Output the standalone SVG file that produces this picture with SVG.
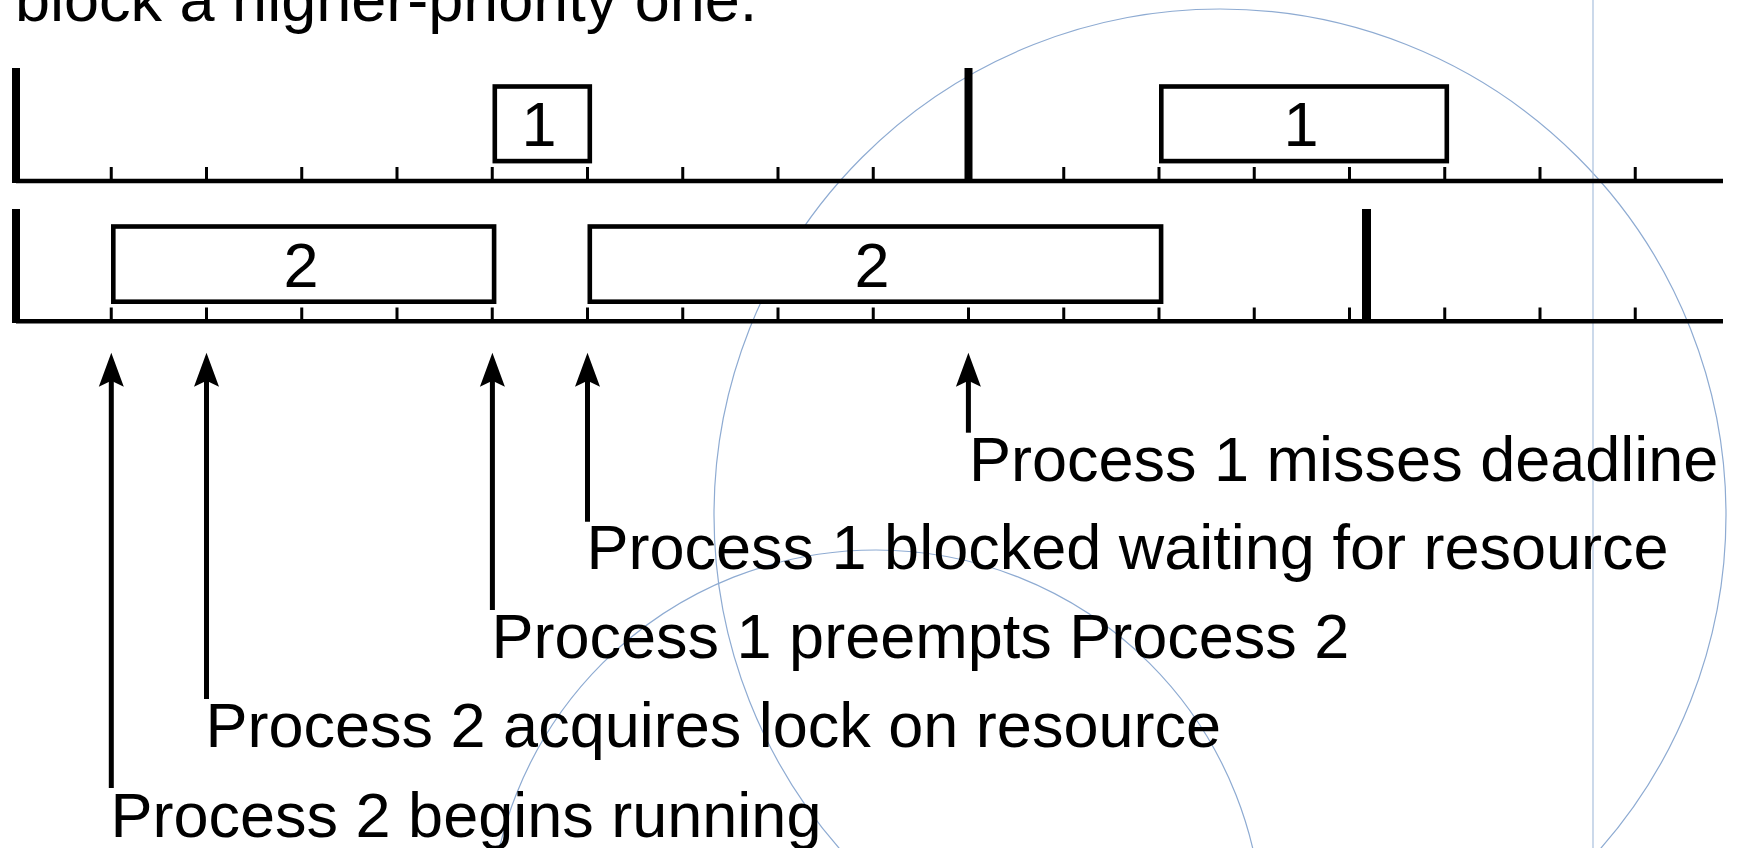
<svg xmlns="http://www.w3.org/2000/svg" xmlns:xlink="http://www.w3.org/1999/xlink" width="1742" height="848" viewBox="0 0 1742 848">
  <style>
    text { font-family: "Liberation Sans", Arial, sans-serif; font-size: 63px; fill: #000; }
    .mid { text-anchor: middle; }
    .axis { stroke: #000; stroke-width: 4.5; fill: none; }
    .tick { stroke: #000; stroke-width: 3; }
    .bar { stroke: #000; stroke-width: 8; }
    .box { stroke: #000; stroke-width: 4.6; fill: #fff; }
    .shaft { stroke: #000; stroke-width: 5; fill: none; }
    .guide { stroke: #8eabd2; stroke-width: 1.2; fill: none; }
    .guide-v { stroke: #a9c0dd; stroke-width: 1.2; fill: none; }
  </style>
  <defs>
    <path id="head" d="M0,0 L12.5,34 L0,28 L-12.5,34 Z" fill="#000"/>
    <!-- tick marks every 95.25px along an axis -->
    <path id="ticks" d="M111.25,0V14 M206.5,0V14 M301.75,0V14 M397,0V14 M492.25,0V14 M587.5,0V14 M682.75,0V14 M778,0V14 M873.25,0V14 M968.5,0V14 M1063.75,0V14 M1159,0V14 M1254.25,0V14 M1349.5,0V14 M1444.75,0V14 M1540,0V14 M1635.25,0V14" class="tick"/>
  </defs>

  <!-- construction guides -->
  <g id="guides">
    <circle class="guide" cx="1220" cy="515" r="506"/>
    <circle class="guide" cx="876" cy="937" r="387"/>
    <line class="guide-v" x1="1593" y1="0" x2="1593" y2="848"/>
  </g>

  <text id="caption" x="15" y="21">block a higher-priority one.</text>

  <!-- timeline for process 1 -->
  <g id="timeline-1">
    <use xlink:href="#ticks" href="#ticks" y="167"/>
    <line class="axis" x1="16" y1="181" x2="1723" y2="181"/>
    <line class="bar" x1="16" y1="68" x2="16" y2="183"/>
    <line class="bar" x1="968.5" y1="68" x2="968.5" y2="183"/>
  </g>
  <g id="p1-run-a">
    <rect class="box" x="494.8" y="86.5" width="95" height="74.6"/>
    <text class="mid" x="539" y="146">1</text>
  </g>
  <g id="p1-run-b">
    <rect class="box" x="1161.3" y="86.5" width="285.5" height="74.6"/>
    <text class="mid" x="1301" y="146">1</text>
  </g>

  <!-- timeline for process 2 -->
  <g id="timeline-2">
    <use xlink:href="#ticks" href="#ticks" y="307.5"/>
    <line class="axis" x1="16" y1="321.3" x2="1723" y2="321.3"/>
    <line class="bar" x1="16" y1="209" x2="16" y2="323"/>
    <line class="bar" x1="1366.5" y1="209" x2="1366.5" y2="323" style="stroke-width:9"/>
  </g>
  <g id="p2-run-a">
    <rect class="box" x="113.3" y="226.5" width="380.8" height="75.2"/>
    <text class="mid" x="301" y="287">2</text>
  </g>
  <g id="p2-run-b">
    <rect class="box" x="589.8" y="226.5" width="571.3" height="75.2"/>
    <text class="mid" x="872" y="287">2</text>
  </g>

  <!-- event pointers -->
  <g id="connectors">
    <line class="shaft" x1="111.3" y1="788" x2="111.3" y2="378"/>
    <use xlink:href="#head" href="#head" x="111.3" y="352.7"/>
    <line class="shaft" x1="206.5" y1="699" x2="206.5" y2="378"/>
    <use xlink:href="#head" href="#head" x="206.5" y="352.7"/>
    <line class="shaft" x1="492.4" y1="610" x2="492.4" y2="378"/>
    <use xlink:href="#head" href="#head" x="492.4" y="352.7"/>
    <line class="shaft" x1="587.5" y1="521.7" x2="587.5" y2="378"/>
    <use xlink:href="#head" href="#head" x="587.5" y="352.7"/>
    <line class="shaft" x1="968.4" y1="432.7" x2="968.4" y2="378"/>
    <use xlink:href="#head" href="#head" x="968.4" y="352.7"/>
  </g>

  <g id="ev-p2-begins"><text x="110.5" y="836.7">Process 2 begins running</text></g>
  <g id="ev-p2-lock"><text x="205.5" y="747">Process 2 acquires lock on resource</text></g>
  <g id="ev-p1-preempts"><text x="491.5" y="658">Process 1 preempts Process 2</text></g>
  <g id="ev-p1-blocked"><text x="586.5" y="569">Process 1 blocked waiting for resource</text></g>
  <g id="ev-p1-deadline"><text x="969" y="480.7">Process 1 misses deadline</text></g>
</svg>
